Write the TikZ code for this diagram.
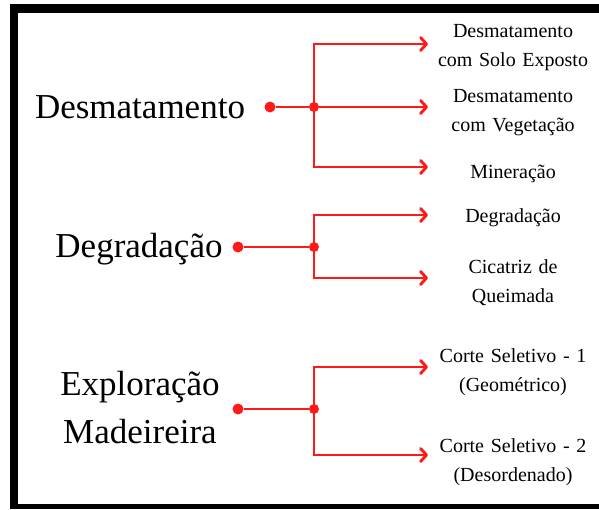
\documentclass[tikz,border=0pt]{standalone}
\usepackage{fontspec}
\setmainfont{Liberation Serif}
\usetikzlibrary{arrows.meta}
\definecolor{linkred}{HTML}{FF1A1A}
\begin{document}
	\begin{tikzpicture}
		[x=1pt,y=-1pt,%
		  every node/.style={inner sep=0pt},
		  category/.style={anchor=base,text width=230pt,align=center,font=\fontsize{35}{48}\selectfont},
		  leaf/.style={anchor=base,text width=160pt,align=center,font=\fontsize{20}{29}\selectfont},
		  dot/.style={shape=circle,fill=linkred,minimum size=11pt},
		  joint/.style={shape=circle,fill=linkred,minimum size=10pt},
		  branch/.style={linkred,line width=2.9pt},
		  link/.style={branch,-{Straight Barb[length=6pt,width=13pt,round]}}]
		\fill[white] (0,0) rectangle (599,509);
		\fill[black] (10,4) rectangle (599,509);
		\fill[white] (18,12.5) rectangle (599,504);
		\node[category] (desm) at (140,118) {Desmatamento};
		\node[category] (degr) at (139,257) {Degradação};
		\node[category] (expl) at (140,395) {Exploração\\Madeireira};
		\node[dot] (desmdot) at (270,107) {};
		\node[dot] (degrdot) at (238,247) {};
		\node[dot] (expldot) at (238,409) {};
		\node[joint] (desmjoint) at (314,107) {};
		\node[joint] (degrjoint) at (314,247) {};
		\node[joint] (expljoint) at (314,409) {};
		\coordinate (soloend) at (428,44);
		\coordinate (vegend) at (428,107);
		\coordinate (minend) at (428,167);
		\coordinate (degrend) at (428,215);
		\coordinate (cicend) at (428,278);
		\coordinate (geoend) at (428,367);
		\coordinate (desoend) at (428,455);
		\node[leaf] (solo) at (513,37) {Desmatamento\\com Solo Exposto};
		\node[leaf] (veg) at (513,102) {Desmatamento\\com Vegetação};
		\node[leaf] (min) at (513,178) {Mineração};
		\node[leaf] (degrleaf) at (513,222) {Degradação};
		\node[leaf] (cic) at (513,273) {Cicatriz de\\Queimada};
		\node[leaf] (geo) at (513,362) {Corte Seletivo - 1\\(Geométrico)};
		\node[leaf] (deso) at (513,452) {Corte Seletivo - 2\\(Desordenado)};
		\draw[branch] (desmdot) -- (desmjoint);
		\draw[branch] (degrdot) -- (degrjoint);
		\draw[branch] (expldot) -- (expljoint);
		\draw[link] (desmjoint.center) |- (soloend);
		\draw[link] (desmjoint) -- (vegend);
		\draw[link] (desmjoint.center) |- (minend);
		\draw[link] (degrjoint.center) |- (degrend);
		\draw[link] (degrjoint.center) |- (cicend);
		\draw[link] (expljoint.center) |- (geoend);
		\draw[link] (expljoint.center) |- (desoend);
	\end{tikzpicture}
\end{document}
